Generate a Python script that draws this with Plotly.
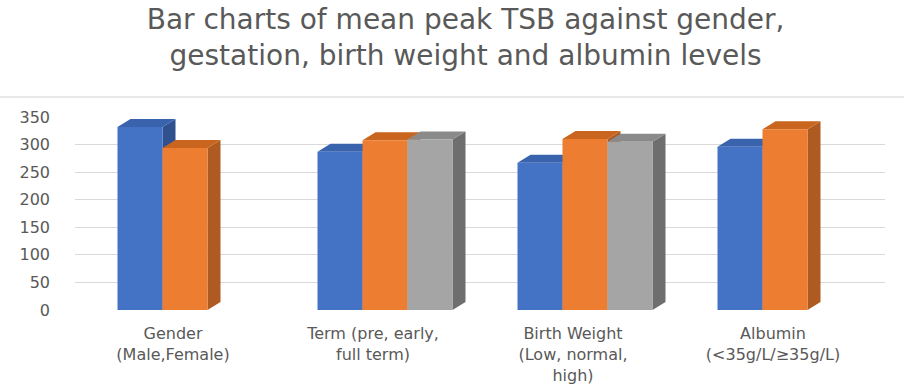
import plotly.graph_objects as go

categories = ["Gender<br>(Male,Female)", "Term (pre, early,<br>full term)",
              "Birth Weight<br>(Low, normal,<br>high)", "Albumin<br>(<35g/L/≥35g/L)"]
series1 = [332, 287, 267, 296]
series2 = [294, 308, 310, 328]
series3 = [None, 309, 305, None]
y_ticks = [0, 50, 100, 150, 200, 250, 300, 350]

front_colors = ["#4472C4", "#ED7D31", "#A5A5A5"]
side_colors = ["#2F528F", "#AE5A21", "#6E6E6E"]
top_colors = ["#3A63AD", "#C9651F", "#8A8A8A"]

bargap = 0.325
all_series = [series1, series2, series3]
nslots = len(all_series)
w = (1 - bargap) / nslots
xs = list(range(len(categories)))
label_shift = 0.06

fig = go.Figure()
for j, vals in enumerate(all_series):
    fig.add_trace(go.Bar(x=xs, y=vals, marker=dict(color=front_colors[j], line=dict(width=0)),
                         showlegend=False, hoverinfo="skip"))

# pseudo-3D faces derived from the data
dx = 0.065   # depth in x-data units
dy = 14.5    # depth in y-data units
shapes = []
for i in xs:
    for j, vals in enumerate(all_series):
        v = vals[i]
        if v is None:
            continue
        c = i + (j - (nslots - 1) / 2) * w
        x0, x1 = c - w / 2, c + w / 2
        shapes.append(dict(type="path", xref="x", yref="y", layer="between",
                           path=f"M {x1},0 L {x1+dx},{dy} L {x1+dx},{v+dy} L {x1},{v} Z",
                           fillcolor=side_colors[j], line=dict(width=0)))
        shapes.append(dict(type="path", xref="x", yref="y", layer="between",
                           path=f"M {x0},{v} L {x1},{v} L {x1+dx},{v+dy} L {x0+dx},{v+dy} Z",
                           fillcolor=top_colors[j], line=dict(width=0)))

# faint separator line under the title
shapes.append(dict(type="line", xref="paper", yref="paper", x0=-0.0926, x1=1.0235,
                   y0=1.104, y1=1.104, line=dict(color="#E8E8E8", width=2), layer="above"))

fig.update_layout(
    width=904, height=387,
    margin=dict(l=75, r=19, t=117, b=77, autoexpand=False),
    paper_bgcolor="white", plot_bgcolor="white",
    barmode="group", bargap=bargap, bargroupgap=0,
    shapes=shapes,
    title=dict(text="Bar charts of mean peak TSB against gender,<br>gestation, birth weight and albumin levels",
               x=0.515, xanchor="center", y=0.925, yanchor="top",
               font=dict(family="DejaVu Sans", size=28, color="#595959")),
    font=dict(family="DejaVu Sans", color="#595959"),
    xaxis=dict(range=[-0.55, 3.5], tickvals=[x - label_shift for x in xs], ticktext=categories,
               showgrid=False, zeroline=False, showline=False, ticks="",
               ticklabelstandoff=12, automargin=False,
               tickfont=dict(family="DejaVu Sans", size=16, color="#595959")),
    yaxis=dict(range=[0, 350], tickvals=y_ticks, showgrid=True, gridcolor="#D9D9D9",
               gridwidth=1, zeroline=False, showline=False, ticks="",
               ticklabelstandoff=24, automargin=False,
               tickfont=dict(family="DejaVu Sans", size=16, color="#595959")),
)

fig.write_html("out.html")
